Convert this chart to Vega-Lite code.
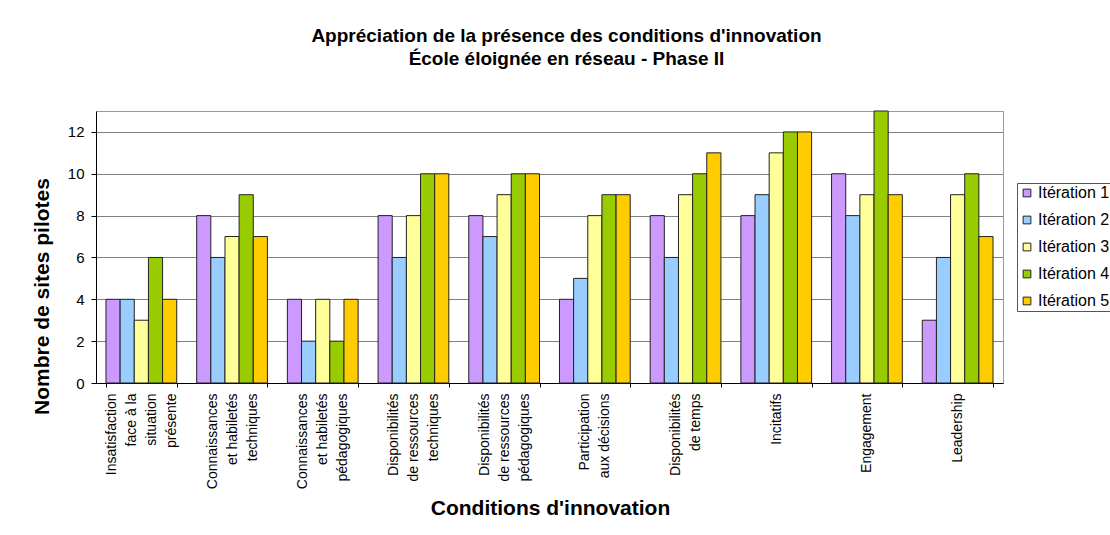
{
  "$schema": "https://vega.github.io/schema/vega-lite/v6.json",
  "autosize": {"type": "none"},
  "padding": {"left": 96, "top": 111, "right": 107, "bottom": 152},
  "width": 907,
  "height": 272,
  "background": "white",
  "title": {
    "text": ["Appréciation de la présence des conditions d'innovation", "École éloignée en réseau - Phase II"],
    "font": "Liberation Sans",
    "fontSize": 19,
    "fontWeight": "bold",
    "lineHeight": 23,
    "anchor": "middle",
    "dx": 17,
    "offset": 42,
    "color": "#000"
  },
  "data": {
    "values": [
      {"c": "Insatisfaction|face à la|situation|présente", "it": "Itération 1", "v": 4},
      {"c": "Insatisfaction|face à la|situation|présente", "it": "Itération 2", "v": 4},
      {"c": "Insatisfaction|face à la|situation|présente", "it": "Itération 3", "v": 3},
      {"c": "Insatisfaction|face à la|situation|présente", "it": "Itération 4", "v": 6},
      {"c": "Insatisfaction|face à la|situation|présente", "it": "Itération 5", "v": 4},
      {"c": "Connaissances|et habiletés|techniques", "it": "Itération 1", "v": 8},
      {"c": "Connaissances|et habiletés|techniques", "it": "Itération 2", "v": 6},
      {"c": "Connaissances|et habiletés|techniques", "it": "Itération 3", "v": 7},
      {"c": "Connaissances|et habiletés|techniques", "it": "Itération 4", "v": 9},
      {"c": "Connaissances|et habiletés|techniques", "it": "Itération 5", "v": 7},
      {"c": "Connaissances|et habiletés|pédagogiques", "it": "Itération 1", "v": 4},
      {"c": "Connaissances|et habiletés|pédagogiques", "it": "Itération 2", "v": 2},
      {"c": "Connaissances|et habiletés|pédagogiques", "it": "Itération 3", "v": 4},
      {"c": "Connaissances|et habiletés|pédagogiques", "it": "Itération 4", "v": 2},
      {"c": "Connaissances|et habiletés|pédagogiques", "it": "Itération 5", "v": 4},
      {"c": "Disponibilités|de ressources|techniques", "it": "Itération 1", "v": 8},
      {"c": "Disponibilités|de ressources|techniques", "it": "Itération 2", "v": 6},
      {"c": "Disponibilités|de ressources|techniques", "it": "Itération 3", "v": 8},
      {"c": "Disponibilités|de ressources|techniques", "it": "Itération 4", "v": 10},
      {"c": "Disponibilités|de ressources|techniques", "it": "Itération 5", "v": 10},
      {"c": "Disponibilités|de ressources|pédagogiques", "it": "Itération 1", "v": 8},
      {"c": "Disponibilités|de ressources|pédagogiques", "it": "Itération 2", "v": 7},
      {"c": "Disponibilités|de ressources|pédagogiques", "it": "Itération 3", "v": 9},
      {"c": "Disponibilités|de ressources|pédagogiques", "it": "Itération 4", "v": 10},
      {"c": "Disponibilités|de ressources|pédagogiques", "it": "Itération 5", "v": 10},
      {"c": "Participation|aux décisions", "it": "Itération 1", "v": 4},
      {"c": "Participation|aux décisions", "it": "Itération 2", "v": 5},
      {"c": "Participation|aux décisions", "it": "Itération 3", "v": 8},
      {"c": "Participation|aux décisions", "it": "Itération 4", "v": 9},
      {"c": "Participation|aux décisions", "it": "Itération 5", "v": 9},
      {"c": "Disponibilités|de temps", "it": "Itération 1", "v": 8},
      {"c": "Disponibilités|de temps", "it": "Itération 2", "v": 6},
      {"c": "Disponibilités|de temps", "it": "Itération 3", "v": 9},
      {"c": "Disponibilités|de temps", "it": "Itération 4", "v": 10},
      {"c": "Disponibilités|de temps", "it": "Itération 5", "v": 11},
      {"c": "Incitatifs", "it": "Itération 1", "v": 8},
      {"c": "Incitatifs", "it": "Itération 2", "v": 9},
      {"c": "Incitatifs", "it": "Itération 3", "v": 11},
      {"c": "Incitatifs", "it": "Itération 4", "v": 12},
      {"c": "Incitatifs", "it": "Itération 5", "v": 12},
      {"c": "Engagement", "it": "Itération 1", "v": 10},
      {"c": "Engagement", "it": "Itération 2", "v": 8},
      {"c": "Engagement", "it": "Itération 3", "v": 9},
      {"c": "Engagement", "it": "Itération 4", "v": 13},
      {"c": "Engagement", "it": "Itération 5", "v": 9},
      {"c": "Leadership", "it": "Itération 1", "v": 3},
      {"c": "Leadership", "it": "Itération 2", "v": 6},
      {"c": "Leadership", "it": "Itération 3", "v": 9},
      {"c": "Leadership", "it": "Itération 4", "v": 10},
      {"c": "Leadership", "it": "Itération 5", "v": 7}
    ]
  },
  "mark": {"type": "bar", "stroke": "#222", "strokeWidth": 1},
  "encoding": {
    "x": {
      "field": "c",
      "type": "nominal",
      "sort": null,
      "scale": {"paddingInner": 0.22, "paddingOuter": 0.11},
      "axis": {
        "title": "Conditions d'innovation",
        "titleFont": "Liberation Sans",
        "titleFontSize": 21,
        "titleFontWeight": "bold",
        "titleColor": "#000",
        "titleX": 454,
        "titleY": 125,
        "titleBaseline": "middle",
        "labelExpr": "split(datum.label, '|')",
        "labelAngle": -90,
        "labelAlign": "right",
        "labelBaseline": "middle",
        "labelFont": "Liberation Sans",
        "labelFontSize": 14,
        "labelLineHeight": 20,
        "labelColor": "#000",
        "labelPadding": 6,
        "labelLimit": 200,
        "labelOffset": {
          "condition": [
            {"test": "length(split(datum.value, '|')) == 4", "value": -30},
            {"test": "length(split(datum.value, '|')) == 3", "value": -20},
            {"test": "length(split(datum.value, '|')) == 2", "value": -10}
          ],
          "value": 0
        },
        "tickBand": "extent",
        "tickSize": 4,
        "tickColor": "#000",
        "domainColor": "#000",
        "grid": false
      }
    },
    "xOffset": {"field": "it", "type": "nominal", "scale": {"paddingInner": 0, "paddingOuter": 0}},
    "y": {
      "field": "v",
      "type": "quantitative",
      "scale": {"domain": [0, 13], "nice": false},
      "axis": {
        "title": "Nombre de sites pilotes",
        "titleFont": "Liberation Sans",
        "titleFontSize": 21,
        "titleFontWeight": "bold",
        "titleColor": "#000",
        "titleAngle": -90,
        "titleX": -54,
        "titleY": 185,
        "titleAlign": "center",
        "titleBaseline": "middle",
        "values": [0, 2, 4, 6, 8, 10, 12],
        "labelFont": "Liberation Sans",
        "labelFontSize": 15,
        "labelColor": "#000",
        "labelPadding": 7,
        "tickSize": 5,
        "tickColor": "#000",
        "domainColor": "#000",
        "gridColor": "#808080",
        "gridOpacity": 1,
        "gridWidth": 1
      }
    },
    "fill": {
      "field": "it",
      "type": "nominal",
      "scale": {
        "domain": ["Itération 1", "Itération 2", "Itération 3", "Itération 4", "Itération 5"],
        "range": ["#CC99FF", "#99CCFF", "#FFFF99", "#99CC00", "#FFCC00"]
      },
      "legend": {
        "title": null,
        "orient": "none",
        "legendX": 921,
        "legendY": 72,
        "symbolType": "square",
        "symbolSize": 60,
        "symbolStrokeColor": "#222",
        "symbolStrokeWidth": 1,
        "labelFont": "Liberation Sans",
        "labelFontSize": 16,
        "labelColor": "#000",
        "labelOffset": 3,
        "rowPadding": 11,
        "padding": 2,
        "strokeColor": "#555",
        "fillColor": "white"
      }
    }
  },
  "config": {
    "view": {"stroke": "#999", "strokeWidth": 1}
  }
}
